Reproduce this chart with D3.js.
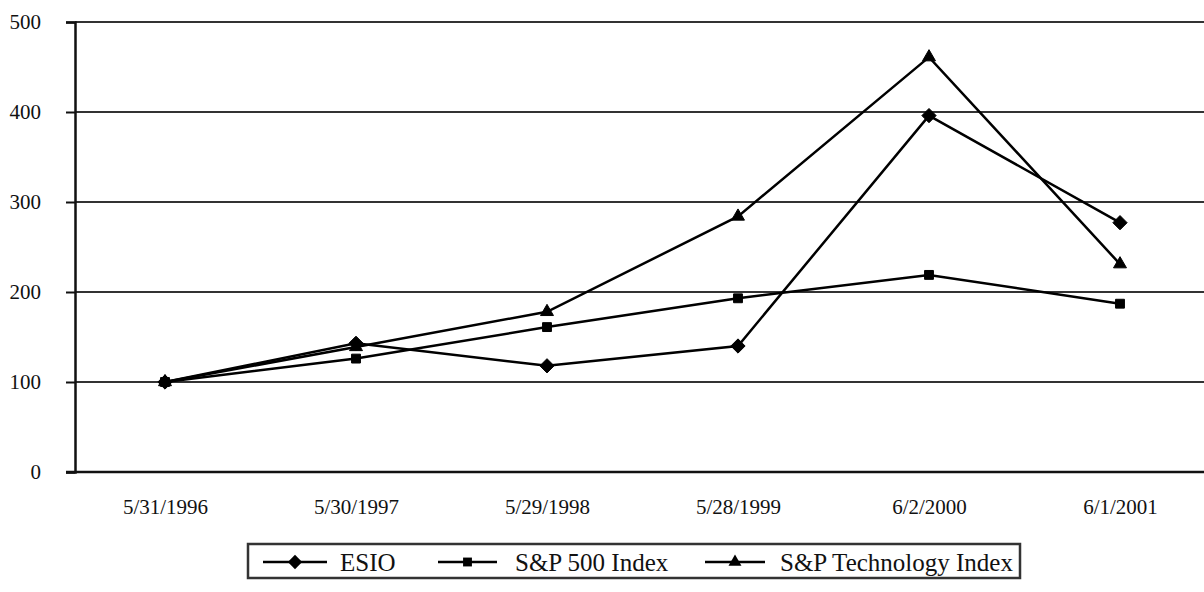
<!DOCTYPE html>
<html>
<head>
<meta charset="utf-8">
<script src="https://cdn.jsdelivr.net/npm/d3@7"></script>
<style>
  html, body { margin: 0; padding: 0; background: #fff; }
  svg { display: block; }
  text { font-family: "Liberation Serif", "Times New Roman", serif; fill: #111; }
</style>
</head>
<body>
<svg id="chart" width="1204" height="592"></svg>
<script>
const categories = ["5/31/1996", "5/30/1997", "5/29/1998", "5/28/1999", "6/2/2000", "6/1/2001"];
const esio = [100, 143, 118, 140, 396, 277];
const sp500 = [100, 126, 161, 193, 219, 187];
const spTech = [100, 139, 178, 284, 461, 231];
const yTicks = [0, 100, 200, 300, 400, 500];
const seriesNames = ["ESIO", "S&P 500 Index", "S&P Technology Index"];
const seriesShapes = ["diamond", "square", "triangle"];

const series = [
  { name: seriesNames[0], values: esio, shape: seriesShapes[0] },
  { name: seriesNames[1], values: sp500, shape: seriesShapes[1] },
  { name: seriesNames[2], values: spTech, shape: seriesShapes[2] }
];

const svg = d3.select("#chart");
const plotLeft = 75, plotRight = 1204, plotTop = 22, plotBottom = 472;

const x = d3.scalePoint().domain(categories).range([165, 1120]);
const y = d3.scaleLinear().domain([0, 500]).range([plotBottom, plotTop]);

// gridlines
svg.append("g").selectAll("line").data(yTicks.filter(d => d > 0)).join("line")
  .attr("x1", plotLeft).attr("x2", plotRight)
  .attr("y1", d => y(d)).attr("y2", d => y(d))
  .attr("stroke", "#333").attr("stroke-width", 2);

// y axis
const yAxis = d3.axisLeft(y).tickValues(yTicks).tickSize(9).tickPadding(25).tickFormat(d3.format("d"));
const ga = svg.append("g").attr("transform", `translate(${plotLeft},0)`).call(yAxis);
ga.select(".domain").attr("stroke", "#111").attr("stroke-width", 2.5);
ga.selectAll(".tick line").attr("stroke", "#111").attr("stroke-width", 2);
ga.selectAll(".tick text").attr("font-size", 21).attr("font-family", "Liberation Serif").attr("fill", "#111");

// x axis baseline
const xAxis = d3.axisBottom(x).tickSize(0).tickPadding(27);
const gx = svg.append("g").attr("transform", `translate(0,${plotBottom})`).call(xAxis);
gx.select(".domain").remove();
svg.append("line").attr("x1", plotLeft - 9).attr("x2", plotRight)
  .attr("y1", plotBottom).attr("y2", plotBottom)
  .attr("stroke", "#111").attr("stroke-width", 2.5);
gx.selectAll(".tick text").attr("font-size", 21).attr("font-family", "Liberation Serif").attr("fill", "#111");

const symbolFor = {
  diamond: d3.symbol().type(d3.symbolDiamond2).size(130),
  square: d3.symbol().type(d3.symbolSquare2).size(100),
  triangle: d3.symbol().type(d3.symbolTriangle2).size(120)
};

const line = d3.line().x((d, i) => x(categories[i])).y(d => y(d));

const gs = svg.append("g");
series.forEach(s => {
  gs.append("path").datum(s.values)
    .attr("d", line).attr("fill", "none")
    .attr("stroke", "#000").attr("stroke-width", 2.5).attr("stroke-linejoin", "miter");
});
series.forEach(s => {
  gs.append("g").selectAll("path").data(s.values).join("path")
    .attr("d", symbolFor[s.shape])
    .attr("transform", (d, i) => `translate(${x(categories[i])},${y(d)})`)
    .attr("fill", "#000").attr("stroke", "#000").attr("stroke-width", 1);
});

// legend
const legend = svg.append("g");
legend.append("rect").attr("x", 248).attr("y", 544).attr("width", 772).attr("height", 34)
  .attr("fill", "#fff").attr("stroke", "#333").attr("stroke-width", 2.5);
const legendItems = [
  { x1: 263, x2: 327, tx: 340 },
  { x1: 438, x2: 497, tx: 515 },
  { x1: 705, x2: 765, tx: 780 }
];
series.forEach((s, i) => {
  const li = legendItems[i];
  const cy = 562;
  legend.append("line").attr("x1", li.x1).attr("x2", li.x2).attr("y1", cy).attr("y2", cy)
    .attr("stroke", "#000").attr("stroke-width", 2.5);
  legend.append("path").attr("d", symbolFor[s.shape])
    .attr("transform", `translate(${(li.x1 + li.x2) / 2},${cy})`).attr("fill", "#000");
  legend.append("text").attr("x", li.tx).attr("y", cy).attr("dy", "0.35em")
    .attr("font-size", 25).text(s.name);
});
</script>
</body>
</html>
